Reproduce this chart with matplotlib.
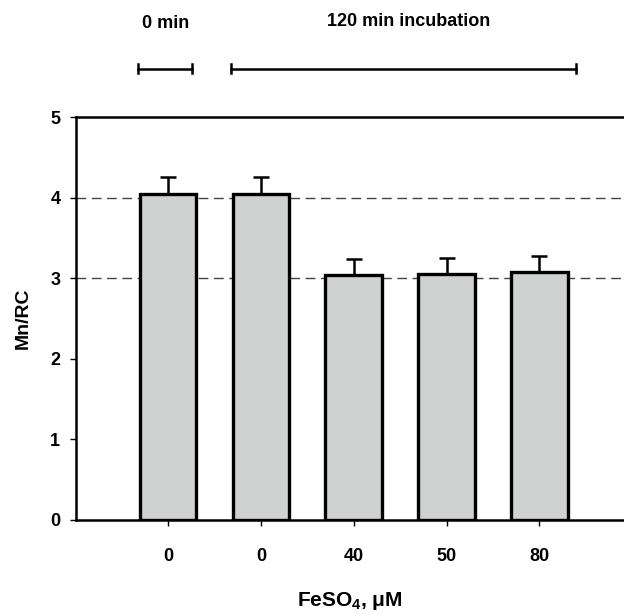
import matplotlib
matplotlib.use("Agg")
import matplotlib.pyplot as plt
import numpy as np

categories = ["0", "0", "40", "50", "80"]
values = [4.05, 4.05, 3.04, 3.05, 3.08]
errors = [0.20, 0.20, 0.20, 0.20, 0.20]
y_ticks = [0, 1, 2, 3, 4, 5]
ref_lines = [4, 3]

plt.rcParams['font.family'] = ['Liberation Sans', 'DejaVu Sans']
plt.rcParams['font.weight'] = 'bold'
plt.rcParams['mathtext.fontset'] = 'custom'
plt.rcParams['mathtext.rm'] = 'Liberation Sans:bold'
plt.rcParams['mathtext.it'] = 'Liberation Sans:bold'
plt.rcParams['mathtext.bf'] = 'Liberation Sans:bold'
plt.rcParams['mathtext.default'] = 'rm'

fig = plt.figure(figsize=(6.24, 6.15), dpi=100)
ax = fig.add_axes([76/624, 1-520/615, 1-76/624, (520-117)/615])

x = np.arange(len(categories))
for yv in ref_lines:
    ax.axhline(yv, color='#444444', lw=1.0, dashes=(7, 4), zorder=1)

ax.bar(x, values, width=0.61, color='#d0d2d1', edgecolor='black', linewidth=2.4, zorder=2)
ax.errorbar(x, values, yerr=[np.zeros(len(errors)), errors], fmt='none',
            ecolor='black', elinewidth=1.8, capsize=5.5, capthick=1.8, zorder=3)

ax.set_xlim(-0.99, 4.91)
ax.set_ylim(0, 5)
ax.set_xticks(x)
ax.set_xticklabels(categories)
ax.set_yticks(y_ticks)
ax.tick_params(axis='both', direction='out', length=4.3, width=1, labelsize=13)
ax.tick_params(axis='y', pad=7)
ax.tick_params(axis='x', pad=16)
for sp in ['left', 'bottom', 'top']:
    ax.spines[sp].set_linewidth(1.8)
ax.spines['right'].set_visible(False)

ax.set_ylabel('Mn/RC', fontsize=14, fontweight='bold')
ax.yaxis.set_label_coords(-0.097, 0.5)
ax.set_xlabel('FeSO$_4$, \u03bcM', fontsize=15, fontweight='bold')
ax.xaxis.set_label_coords(0.5, -0.201)
ax.xaxis.label.set_va('center')
ax.yaxis.label.set_va('center')

# Brackets above the plot
def bracket(x0, x1, y):
    ax.plot([x0, x1], [y, y], color='black', lw=1.8, clip_on=False)
    for xx in (x0, x1):
        ax.plot([xx, xx], [y - 0.06, y + 0.06], color='black', lw=1.8, clip_on=False)

bracket(-0.32, 0.26, 5.6)
bracket(0.68, 4.39, 5.6)
ax.text(-0.03, 6.16, '0 min', ha='center', va='center', fontsize=13, fontweight='bold', clip_on=False)
ax.text(2.59, 6.19, '120 min incubation', ha='center', va='center', fontsize=13, fontweight='bold', clip_on=False)

fig.savefig('out.png', dpi=100)
